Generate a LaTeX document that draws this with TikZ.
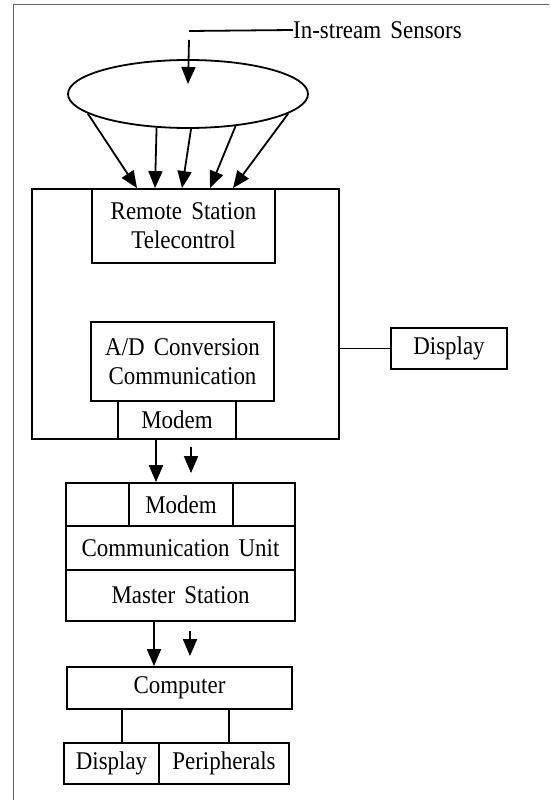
\documentclass[tikz,border=0pt]{standalone}
\usepackage{fontspec}
\setmainfont{Liberation Serif}[WordSpace=1.6,FakeStretch=0.9]
\usetikzlibrary{arrows.meta,shapes.geometric}

\begin{document}
\begin{tikzpicture}[x=1pt,y=1pt,yscale=-1,xscale=1,
  box/.style={draw, line width=1.8pt, inner sep=0pt, align=center, font=\fontsize{25.5}{29}\selectfont},
  link/.style={line width=1.8pt},
  arr/.style={line width=1.8pt, -{Triangle[length=17pt,width=14pt]}}]
\useasboundingbox (0,0) rectangle (549,802);

%Frame (top and left edge only)
\draw [black!60, line width=1pt] (13,800) -- (13,5) -- (549,5);

%Sensors
\node [box, ellipse, minimum width=240pt, minimum height=68pt] (field) at (188,94) {};
\node [anchor=west, inner sep=0pt, font=\fontsize{25.5}{29}\selectfont] (sensors) at (293,30) {In-stream Sensors};
\coordinate (lead) at (189,31);
\coordinate (leadtop) at (189,40);
\draw [link] (sensors.west) -- (lead);
\draw [arr] (leadtop) -- ([yshift=-10pt]field.center);

%Remote station
\node [box, minimum width=307pt, minimum height=250pt] (remote) at (185.5,314) {};
\node [box, minimum width=183pt, minimum height=74pt] (telectl) at (183.5,226) {Remote Station\\Telecontrol};
\node [box, minimum width=183pt, minimum height=79pt] (adconv) at (182.5,361.5) {A/D Conversion\\Communication};
\node [box, minimum width=118pt, minimum height=38pt] (rmodem) at (177,420) {Modem};
\node [box, minimum width=116pt, minimum height=41pt] (rdisplay) at (449,348.5) {Display};
\draw [link] (remote.east |- rdisplay.west) -- (rdisplay.west);

\foreach \a/\dx in {191/-48.5, 227/-30.5, 275/-3.5, 326/24.5, 349/47.5}
  \draw [arr] (field.\a) -- ([xshift=\dx pt]remote.north);

%Master station
\node [box, minimum width=229pt, minimum height=43pt] (mtop) at (180.5,504.5) {};
\node [box, minimum width=104pt, minimum height=43pt] (mmodem) at (181,504.5) {Modem};
\node [box, minimum width=229pt, minimum height=44pt] (commu) at (180.5,548) {Communication Unit};
\node [box, minimum width=229pt, minimum height=51pt] (master) at (180.5,595.5) {Master Station};

\coordinate (rtail) at (191,447);
\draw [arr] ([xshift=-29.5pt]remote.south) -- ([xshift=-24.5pt]mtop.north);
\draw [arr] (rtail) -- ([xshift=10pt,yshift=-9pt]mmodem.north);

%Computer
\node [box, minimum width=225pt, minimum height=42pt] (computer) at (179.5,688) {Computer};
\node [box, minimum width=95pt, minimum height=41pt] (bdisplay) at (111.5,763.5) {Display};
\node [box, minimum width=130pt, minimum height=41pt] (periph) at (224,763.5) {Peripherals};

\coordinate (mtail) at (190,631);
\draw [arr] ([xshift=-26.5pt]master.south) -- ([xshift=-25.5pt]computer.north);
\draw [arr] (mtail) -- ([xshift=10.5pt,yshift=-10pt]computer.north);

\draw [link] ([xshift=-57.5pt]computer.south) -- ([xshift=10.5pt]bdisplay.north);
\draw [link] ([xshift=49.5pt]computer.south) -- ([xshift=5pt]periph.north);

\end{tikzpicture}
\end{document}
